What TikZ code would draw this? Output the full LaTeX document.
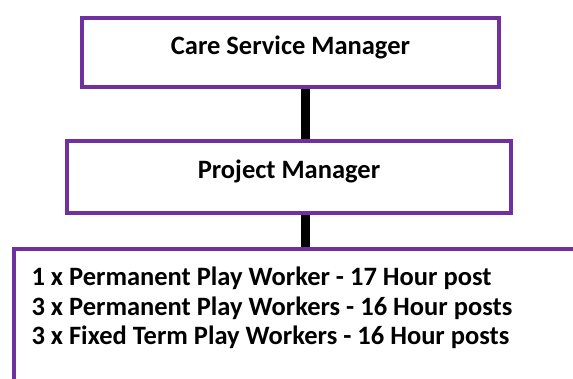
\documentclass[tikz,border=0pt]{standalone}
\usepackage{fontspec}
\setmainfont{Carlito}
\usepackage{tikz}
\usetikzlibrary{positioning,calc}
\definecolor{plum}{RGB}{112,48,160}
\tikzset{
  post/.style={draw=plum,line width=4pt,fill=white,align=center,
    font=\fontsize{26.5}{29.5}\selectfont\bfseries,
    text height=16pt,text depth=13pt},
  team/.style={draw=plum,line width=4pt,align=flush left,
    font=\fontsize{26.5}{29.5}\selectfont\bfseries,
    inner xsep=18pt,inner ysep=18.5pt,text width=600pt},
  link/.style={draw=black,line width=9pt},
}
\begin{document}
\begin{tikzpicture}[x=1pt,y=-1pt]
  \useasboundingbox (0,0) rectangle (573,378);
  \node[post,minimum width=417pt,minimum height=69.5pt] (csm) at (290.5,52.7) {Care Service Manager};
  \node[post,minimum width=444pt,minimum height=72pt] (pm) at (289,177) {Project Manager};
  % the staff box runs off the page on the right and below
  \node[team,anchor=north west] (workers) at (11.5,246.5)
    {1 x Permanent Play Worker - 17 Hour post\\
     3 x Permanent Play Workers - 16 Hour posts\\
     3 x Fixed Term Play Workers - 16 Hour posts\rule[-60pt]{0pt}{60pt}};
  % reporting lines
  \draw[link] ([xshift=15pt]csm.south) -- ([xshift=15pt]csm.south |- pm.north);
  \draw[link] ([xshift=16.5pt]pm.south) -- ([xshift=16.5pt]pm.south |- workers.north);
\end{tikzpicture}
\end{document}
